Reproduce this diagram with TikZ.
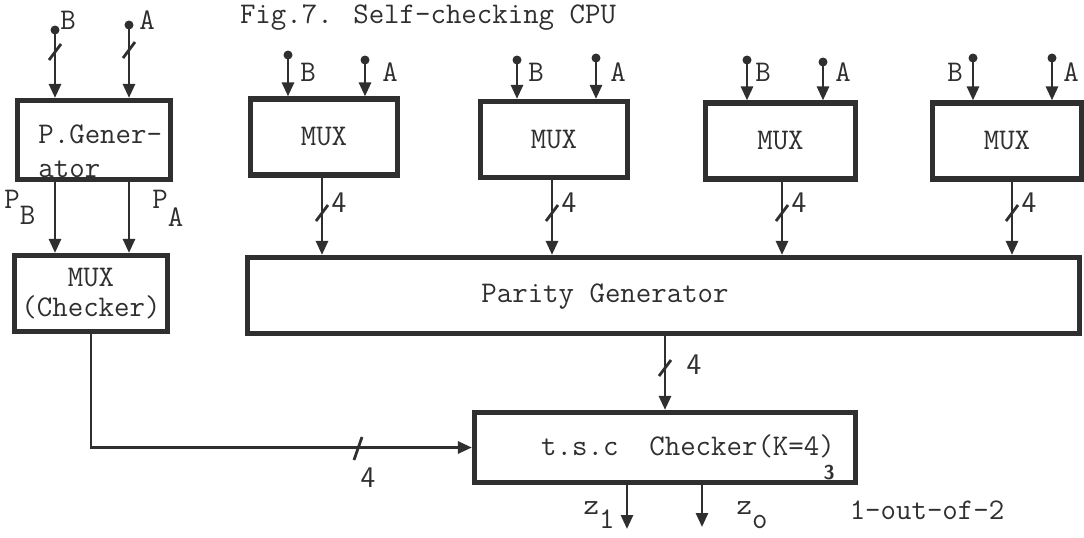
\documentclass[tikz,border=0pt]{standalone}
\usetikzlibrary{calc, arrows.meta}

\newcommand{\busslash}[2]{\draw[plain] ($(#1,#2)+(-6,8)$) -- ($(#1,#2)+(6,-8)$);}

\begin{document}
\begin{tikzpicture}[x=0.5pt, y=-0.5pt, font=\ttfamily\fontsize{15}{17}\selectfont]
    % Define colours
    \definecolor{inkColour}{HTML}{2F2F2F}

    \tikzset{
        block/.style={draw=inkColour, line width=2.6pt, rectangle, inner sep=0pt, text=inkColour, align=center},
        wire/.style={draw=inkColour, line width=1.4pt, -{Triangle[length=7pt,width=6pt]}},
        plain/.style={draw=inkColour, line width=1.4pt},
        pin/.style={circle, fill=inkColour, inner sep=0pt, minimum size=4.5pt},
        lbl/.style={text=inkColour, inner sep=0pt},
        buslbl/.style={lbl, font=\sffamily\fontsize{15}{15}\selectfont}
    }

    % Fix the page size
    \useasboundingbox (0,0) rectangle (1084,537);
    \clip (0,0) rectangle (1084,537);

    % Title
    \node[lbl, anchor=base] (title) at (428,23) {Fig.7. Self-checking CPU};

    % Draw the big blocks
    \node[block, minimum width=76.5pt, minimum height=39.5pt] (pgen) at (94,140) {};
    \node[lbl, anchor=west, align=left] (pgenText) at (38,151) {P.Gener-\\ator};
    \node[block, minimum width=76.5pt, minimum height=38pt] (mchk) at (91,293.5) {MUX\\[-2pt](Checker)};
    \node[block, minimum width=416pt, minimum height=38pt] (parity) at (663.5,295.5) {};
    \node[lbl] (parityText) at (605,297) {Parity Generator};
    \node[block, minimum width=190.5pt, minimum height=35pt] (checker) at (665,447.5) {};
    \node[lbl] (checkerText) at (688,446) {t.s.c\ \ Checker(K=4)};
    \node[lbl, font=\sffamily\bfseries\fontsize{10}{10}\selectfont] (checkerNum) at (829,473) {3};

    % Inputs of the parity generator
    \coordinate (pgB) at (55,30);
    \coordinate (pgA) at (129,25);
    \node[pin] at (pgB) {};
    \node[pin] at (pgA) {};
    \draw[wire] (pgB) -- (pgB |- pgen.north);
    \draw[wire] (pgA) -- (pgA |- pgen.north);
    \busslash{55}{52}
    \busslash{129}{50}
    \node[lbl] (pgBText) at (68,20) {B};
    \node[lbl] (pgAText) at (147,20) {A};

    % Outputs P_B and P_A
    \draw[wire] (pgB |- pgen.south) -- (pgB |- mchk.north);
    \draw[wire] (pgA |- pgen.south) -- (pgA |- mchk.north);
    \node[lbl, anchor=base west] (pBText) at (4,208) {P\raisebox{-8pt}{B}};
    \node[lbl, anchor=base west] (pAText) at (152,208) {P\raisebox{-9pt}{A}};

    % Draw the MUX row
    \foreach \n/\cx/\cy/\w/\bx/\ax/\by/\ay/\blab/\alab/\ox in {
        1/324/137/73.5/288/365/55/60/308/390/322,
        2/554/139.5/73.5/517/596/60/58/536/618/552,
        3/780.5/141/75/747/823/60/62/763/843/782,
        4/1007/141/74.5/973/1052/58/58/955/1071/1012}
    {
        \node[block, minimum width=\w pt, minimum height=38pt] (mux\n) at (\cx,\cy) {MUX};
        \coordinate (inB\n) at (\bx,\by);
        \coordinate (inA\n) at (\ax,\ay);
        \node[pin] at (inB\n) {};
        \node[pin] at (inA\n) {};
        \draw[wire] (inB\n) -- (inB\n |- mux\n.north);
        \draw[wire] (inA\n) -- (inA\n |- mux\n.north);
        \node[lbl] at (\blab,72) {B};
        \node[lbl] at (\alab,72) {A};
        % 4-bit bus to the parity generator
        \coordinate (out\n) at (\ox,0);
        \draw[wire] (out\n |- mux\n.south) -- (out\n |- parity.north);
        \busslash{\ox}{213}
        \node[buslbl] at (\ox+17,203) {4};
    }

    % Parity generator to checker
    \draw[wire] (checker.north |- parity.south) -- (checker.north);
    \busslash{665}{368}
    \node[buslbl] (pcText) at (694,365) {4};

    % MUX (Checker) to checker
    \draw[wire] (mchk.south) |- (checker.west);
    \draw[plain] (354,460) -- (362,437);
    \node[buslbl] (mcText) at (368,478) {4};

    % Outputs z1 and z0
    \coordinate (zOne) at (627,529);
    \coordinate (zZero) at (702,527);
    \draw[wire] (zOne |- checker.south) -- (zOne);
    \draw[wire] (zZero |- checker.south) -- (zZero);
    \node[lbl, anchor=base] (zOneText) at (599,514) {z\raisebox{-7pt}{1}};
    \node[lbl, anchor=base] (zZeroText) at (752,514) {z\raisebox{-7pt}{o}};
    \node[lbl] (codeText) at (927,510) {1-out-of-2};

\end{tikzpicture}
\end{document}
